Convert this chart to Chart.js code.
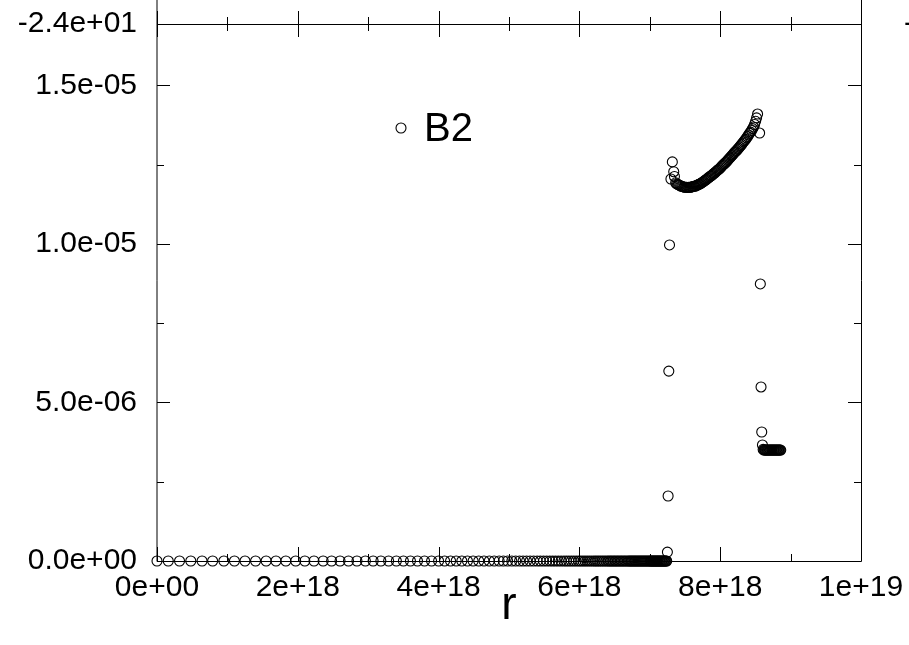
<!DOCTYPE html>
<html>
<head>
<meta charset="utf-8">
<script src="https://cdn.jsdelivr.net/npm/chart.js@4.4.1/dist/chart.umd.min.js"></script>
<style>
  html, body { margin: 0; padding: 0; background: #fff; }
  #wrap { width: 909px; height: 645px; }
</style>
</head>
<body>
<div id="wrap"><canvas id="c" width="909" height="645"></canvas></div>
<script>
// Radius grid in units of 1e18 and the B2 profile on it.
// Inner region: field is zero out to the shock; the grid tightens outward.
const rInnerE18 = [
  0, 0.16, 0.32, 0.48, 0.64, 0.79, 0.95, 1.10, 1.25, 1.40,
  1.55, 1.69, 1.83, 1.97, 2.10, 2.23, 2.36, 2.48, 2.60, 2.72,
  2.84, 2.96, 3.07, 3.18, 3.29, 3.40, 3.50, 3.60, 3.70, 3.80,
  3.90, 4.00, 4.085, 4.17, 4.25, 4.33, 4.41, 4.49, 4.57, 4.645,
  4.72, 4.79, 4.86, 4.92, 4.98, 5.04, 5.095, 5.15, 5.20, 5.25,
  5.30, 5.35, 5.40, 5.445, 5.49, 5.535, 5.58, 5.62, 5.66, 5.70,
  5.74, 5.78, 5.815, 5.85, 5.885, 5.92, 5.955, 5.99, 6.02, 6.05,
  6.08, 6.11, 6.14, 6.17, 6.20, 6.225, 6.25, 6.275, 6.30, 6.325,
  6.35, 6.375, 6.40, 6.42, 6.44, 6.46, 6.48, 6.50, 6.52, 6.54,
  6.56, 6.58, 6.60, 6.62, 6.64, 6.66, 6.68, 6.70, 6.715, 6.73,
  6.745, 6.76, 6.775, 6.79, 6.805, 6.82, 6.835, 6.85, 6.865, 6.88,
  6.895, 6.91, 6.925, 6.94, 6.955, 6.97, 6.985, 7.00, 7.01, 7.02,
  7.03, 7.04, 7.05, 7.06, 7.07, 7.08, 7.09, 7.10, 7.11, 7.12,
  7.13, 7.14, 7.15, 7.16, 7.17, 7.18, 7.19, 7.20, 7.21, 7.22,
  7.23, 7.24
];
const b2Inner = [
  0, 0, 0, 0, 0, 0, 0, 0, 0, 0,
  0, 0, 0, 0, 0, 0, 0, 0, 0, 0,
  0, 0, 0, 0, 0, 0, 0, 0, 0, 0,
  0, 0, 0, 0, 0, 0, 0, 0, 0, 0,
  0, 0, 0, 0, 0, 0, 0, 0, 0, 0,
  0, 0, 0, 0, 0, 0, 0, 0, 0, 0,
  0, 0, 0, 0, 0, 0, 0, 0, 0, 0,
  0, 0, 0, 0, 0, 0, 0, 0, 0, 0,
  0, 0, 0, 0, 0, 0, 0, 0, 0, 0,
  0, 0, 0, 0, 0, 0, 0, 0, 0, 0,
  0, 0, 0, 0, 0, 0, 0, 0, 0, 0,
  0, 0, 0, 0, 0, 0, 0, 0, 0, 0,
  0, 0, 0, 0, 0, 0, 0, 0, 0, 0,
  0, 0, 0, 0, 0, 0, 0, 0, 0, 0,
  0, 0
];

// Shocked shell: jump, overshoot, dip, then the rising branch.
const rShellE18 = [
  7.25, 7.26, 7.27, 7.28, 7.30, 7.32, 7.34, 7.35,
  7.367, 7.381, 7.395, 7.409, 7.424, 7.438, 7.452, 7.466, 7.481, 7.495,
  7.509, 7.523, 7.537, 7.552, 7.566, 7.580, 7.594, 7.608, 7.623, 7.637,
  7.651, 7.665, 7.679, 7.694, 7.708, 7.722, 7.736, 7.750, 7.764, 7.779,
  7.793, 7.807, 7.821, 7.835, 7.850, 7.864, 7.878, 7.892, 7.906, 7.921,
  7.935, 7.949, 7.963, 7.977, 7.991, 8.006, 8.020, 8.034, 8.048, 8.062,
  8.077, 8.091, 8.105, 8.119, 8.133, 8.148, 8.162, 8.176, 8.190, 8.204,
  8.219, 8.233, 8.247, 8.261, 8.275, 8.290, 8.304, 8.318, 8.332, 8.346,
  8.360, 8.375, 8.389, 8.403, 8.417, 8.431, 8.446, 8.460, 8.474, 8.488,
  8.503, 8.517, 8.531
];
const b2Shell = [
  2.8e-7, 2.05e-6, 5.99e-6, 9.97e-6, 1.205e-5, 1.259e-5, 1.228e-5, 1.213e-5,
  1.193e-5, 1.190e-5, 1.188e-5, 1.187e-5, 1.185e-5, 1.183e-5, 1.182e-5, 1.181e-5, 1.180e-5, 1.179e-5,
  1.179e-5, 1.179e-5, 1.178e-5, 1.179e-5, 1.179e-5, 1.179e-5, 1.180e-5, 1.181e-5, 1.182e-5, 1.182e-5,
  1.183e-5, 1.185e-5, 1.186e-5, 1.188e-5, 1.189e-5, 1.191e-5, 1.193e-5, 1.195e-5, 1.197e-5, 1.200e-5,
  1.202e-5, 1.204e-5, 1.207e-5, 1.209e-5, 1.212e-5, 1.214e-5, 1.216e-5, 1.219e-5, 1.222e-5, 1.224e-5,
  1.227e-5, 1.230e-5, 1.233e-5, 1.235e-5, 1.238e-5, 1.241e-5, 1.245e-5, 1.248e-5, 1.251e-5, 1.254e-5,
  1.257e-5, 1.260e-5, 1.264e-5, 1.267e-5, 1.271e-5, 1.274e-5, 1.278e-5, 1.281e-5, 1.285e-5, 1.289e-5,
  1.292e-5, 1.295e-5, 1.299e-5, 1.302e-5, 1.306e-5, 1.310e-5, 1.314e-5, 1.318e-5, 1.322e-5, 1.326e-5,
  1.330e-5, 1.335e-5, 1.339e-5, 1.344e-5, 1.349e-5, 1.353e-5, 1.358e-5, 1.364e-5, 1.369e-5, 1.377e-5,
  1.387e-5, 1.398e-5, 1.410e-5
];

// Outer edge: drop back to the ambient level.
const rOuterE18 = [
  8.56, 8.57, 8.58, 8.59, 8.60, 8.61, 8.62, 8.63, 8.64, 8.65,
  8.66, 8.67, 8.68, 8.69, 8.70, 8.71, 8.72, 8.73, 8.74, 8.75,
  8.76, 8.77, 8.78, 8.79, 8.80, 8.81, 8.82, 8.83, 8.84, 8.85,
  8.86
];
const b2Outer = [
  1.350e-5, 8.74e-6, 5.49e-6, 4.07e-6, 3.66e-6, 3.52e-6, 3.50e-6, 3.50e-6, 3.50e-6, 3.50e-6,
  3.50e-6, 3.50e-6, 3.50e-6, 3.50e-6, 3.50e-6, 3.50e-6, 3.50e-6, 3.50e-6, 3.50e-6, 3.50e-6,
  3.50e-6, 3.50e-6, 3.50e-6, 3.50e-6, 3.50e-6, 3.50e-6, 3.50e-6, 3.50e-6, 3.50e-6, 3.50e-6,
  3.50e-6
];

// Axis settings
const xTickValues = [0, 2e18, 4e18, 6e18, 8e18, 1e19];
const yTickValues = [0, 5e-6, 1e-5, 1.5e-5];
const xRange = [0, 1e19];
const yRange = [0, 1.694e-5];
const upperPanelLabel = '-2.4e+01';
const seriesName = 'B2';
const xTitle = 'r';

const FONT = '"Liberation Sans", Arial, Helvetica, sans-serif';

function toPoints(rs, vs) {
  return rs.map((r, i) => ({ x: r * 1e18, y: vs[i] }));
}
const points = [].concat(
  toPoints(rInnerE18, b2Inner),
  toPoints(rShellE18, b2Shell),
  toPoints(rOuterE18, b2Outer)
);

// gnuplot-style exponent formatting: two-digit exponent
function expFmt(v, digits) {
  let s = Number(v).toExponential(digits);
  return s.replace(/e([+-])(\d)$/, 'e$10$2');
}

// keep the plot box fixed: no extra room reserved for overhanging labels
function noScalePadding(s) {
  s.paddingTop = 0; s.paddingBottom = 0; s.paddingLeft = 0; s.paddingRight = 0;
}

// Frame with inward tick marks on all four sides, plus free labels
const framePlugin = {
  id: 'frame',
  afterDraw(chart) {
    const { ctx, chartArea: a, scales } = chart;
    const xs = scales.x, ys = scales.y;
    ctx.save();
    ctx.strokeStyle = '#000';
    ctx.lineWidth = 1;

    ctx.beginPath();
    // left and right axis lines run up past the top border
    ctx.moveTo(a.left, 0); ctx.lineTo(a.left, a.bottom + 0.5);
    ctx.moveTo(a.right + 0.5, 0); ctx.lineTo(a.right + 0.5, a.bottom + 0.5);
    ctx.moveTo(a.left, a.top + 0.5); ctx.lineTo(a.right + 0.5, a.top + 0.5);
    ctx.moveTo(a.left, a.bottom + 0.5); ctx.lineTo(a.right + 0.5, a.bottom + 0.5);

    // x ticks: majors on the labelled values, minors halfway between
    const xMinor = [];
    for (let i = 0; i < xTickValues.length - 1; i++) xMinor.push((xTickValues[i] + xTickValues[i + 1]) / 2);
    xTickValues.forEach(v => {
      const px = Math.round(xs.getPixelForValue(v)) + 0.5;
      ctx.moveTo(px, a.bottom); ctx.lineTo(px, a.bottom - 14);
      ctx.moveTo(px, a.top - 13); ctx.lineTo(px, a.top + 13);
    });
    xMinor.forEach(v => {
      const px = Math.round(xs.getPixelForValue(v)) + 0.5;
      ctx.moveTo(px, a.bottom); ctx.lineTo(px, a.bottom - 7);
      ctx.moveTo(px, a.top - 7); ctx.lineTo(px, a.top + 7);
    });

    // y ticks on both sides
    const yMinor = [];
    for (let i = 0; i < yTickValues.length - 1; i++) yMinor.push((yTickValues[i] + yTickValues[i + 1]) / 2);
    yTickValues.forEach(v => {
      const py = Math.round(ys.getPixelForValue(v)) + 0.5;
      ctx.moveTo(a.left, py); ctx.lineTo(a.left + 13, py);
      ctx.moveTo(a.right, py); ctx.lineTo(a.right - 13, py);
    });
    yMinor.forEach(v => {
      const py = Math.round(ys.getPixelForValue(v)) + 0.5;
      ctx.moveTo(a.left, py); ctx.lineTo(a.left + 7, py);
      ctx.moveTo(a.right, py); ctx.lineTo(a.right - 7, py);
    });
    ctx.stroke();

    // label of the panel stacked above
    ctx.fillStyle = '#000';
    ctx.font = '30px ' + FONT;
    ctx.textBaseline = 'middle';
    ctx.textAlign = 'right';
    ctx.fillText(upperPanelLabel, a.left - 20, a.top);
    ctx.textAlign = 'left';
    ctx.fillText(upperPanelLabel, 904, a.top);

    // key
    ctx.beginPath();
    ctx.arc(401, 128, 5, 0, Math.PI * 2);
    ctx.lineWidth = 1.1;
    ctx.stroke();
    ctx.font = '40px ' + FONT;
    ctx.textBaseline = 'alphabetic';
    ctx.textAlign = 'left';
    ctx.fillText(seriesName, 424, 141);
    ctx.restore();
  }
};

new Chart(document.getElementById('c'), {
  type: 'scatter',
  data: {
    datasets: [{
      label: seriesName,
      data: points,
      pointStyle: 'circle',
      pointRadius: 5,
      pointHoverRadius: 5,
      pointBorderWidth: 1.1,
      borderColor: '#000',
      backgroundColor: 'rgba(0,0,0,0)',
      showLine: false,
      clip: false
    }]
  },
  options: {
    responsive: false,
    animation: false,
    devicePixelRatio: 1,
    events: [],
    layout: { padding: { left: 0, top: 24, right: 48, bottom: 0 } },
    plugins: { legend: { display: false }, tooltip: { enabled: false } },
    scales: {
      x: {
        type: 'linear',
        position: 'bottom',
        min: xRange[0],
        max: xRange[1],
        afterFit: s => { s.height = 84; noScalePadding(s); },
        afterBuildTicks: s => { s.ticks = xTickValues.map(v => ({ value: v })); },
        ticks: {
          padding: 9,
          color: '#000',
          maxRotation: 0,
          autoSkip: false,
          font: { family: FONT, size: 30 },
          callback: v => expFmt(v, 0)
        },
        grid: { display: false, drawTicks: false },
        border: { display: false },
        title: {
          display: true,
          text: xTitle,
          color: '#000',
          font: { family: FONT, size: 46 },
          padding: { top: 0, bottom: 11 }
        }
      },
      y: {
        type: 'linear',
        min: yRange[0],
        max: yRange[1],
        afterFit: s => { s.width = 157; noScalePadding(s); },
        afterBuildTicks: s => { s.ticks = yTickValues.map(v => ({ value: v })); },
        ticks: {
          padding: 20,
          color: '#000',
          font: { family: FONT, size: 30 },
          callback: v => expFmt(v, 1)
        },
        grid: { display: false, drawTicks: false },
        border: { display: false }
      }
    }
  },
  plugins: [framePlugin]
});
</script>
</body>
</html>
